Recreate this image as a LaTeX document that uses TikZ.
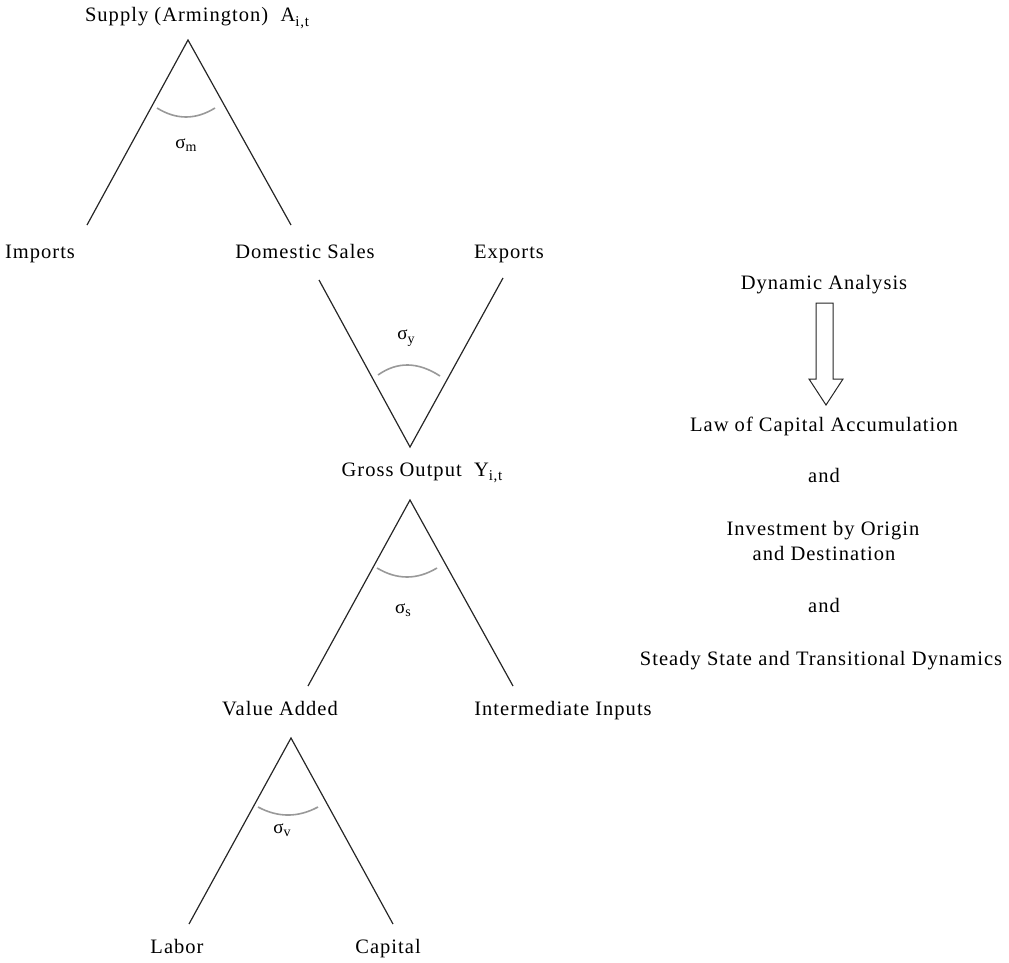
\documentclass[tikz,border=0pt]{standalone}
\usepackage{fontspec}
\setmainfont{Liberation Serif}[LetterSpace=5]
\newcommand\lowsub[1]{\raisebox{-4.5pt}{\fontsize{15}{15}\selectfont #1}}
\newcommand\sigsub[1]{σ\raisebox{-3.5pt}{\fontsize{14}{14}\selectfont #1}}
\begin{document}
\begin{tikzpicture}[x=1pt,y=-1pt,
  lbl/.style={anchor=base, inner sep=0pt, font=\fontsize{20.5}{24}\selectfont},
  sig/.style={anchor=center, inner sep=0pt, font=\fontsize{19}{20}\selectfont},
  edge/.style={draw=black!85, line width=1.2pt},
  angarc/.style={draw=black!40, line width=1.6pt},
  blockarrow/.style={draw=black!85, line width=1pt, fill=white, line join=miter}]
\useasboundingbox (0,0) rectangle (1009,963);

% labels
\node[lbl] (supply)   at (197,22)  {Supply (Armington)\hspace{0.6em}A\lowsub{i,t}};
\node[lbl] (imports)  at (40,258)  {Imports};
\node[lbl] (domestic) at (305,258) {Domestic Sales};
\node[lbl] (exports)  at (509,258) {Exports};
\node[lbl] (gross)    at (422,476) {Gross Output\hspace{0.6em}Y\lowsub{i,t}};
\node[lbl] (va)       at (280,715) {Value Added};
\node[lbl] (ii)       at (563,715) {Intermediate Inputs};
\node[lbl] (labor)    at (177,953) {Labor};
\node[lbl] (capital)  at (388,953) {Capital};

\node[lbl] (dyn)    at (824,289) {Dynamic Analysis};
\node[lbl] (law)    at (824,431) {Law of Capital Accumulation};
\node[lbl] (and1)   at (824,482) {and};
\node[lbl] (inv)    at (823,535) {Investment by Origin};
\node[lbl] (invb)   at (824,560) {and Destination};
\node[lbl] (and2)   at (824,612) {and};
\node[lbl] (steady) at (821,665) {Steady State and Transitional Dynamics};

% elasticity labels
\node[sig] (sigm) at (186,145) {\sigsub{m}};
\node[sig] (sigy) at (406,338) {\sigsub{y}};
\node[sig] (sigs) at (403,610) {\sigsub{s}};
\node[sig] (sigv) at (282,830) {\sigsub{v}};

% nesting points
\coordinate (tA) at (188,40);  \coordinate (tL) at (87,225);  \coordinate (tR) at (291,225);
\coordinate (vL) at (319,280); \coordinate (vB) at (410,447); \coordinate (vR) at (503,278);
\coordinate (gA) at (410,500); \coordinate (gL) at (308,686); \coordinate (gR) at (513,686);
\coordinate (bA) at (291,738); \coordinate (bL) at (189,924); \coordinate (bR) at (393,924);

\draw[edge] (tL) -- (tA) -- (tR);
\draw[edge] (vL) -- (vB) -- (vR);
\draw[edge] (gL) -- (gA) -- (gR);
\draw[edge] (bL) -- (bA) -- (bR);

% angle arcs
\draw[angarc] (157,108) .. controls (176.3,120) and (195.7,120) .. (215,108);
\draw[angarc] (378,375) .. controls (397.3,361.3) and (418,361.7) .. (440,376);
\draw[angarc] (377,568) .. controls (397,580) and (417,580) .. (437,568);
\draw[angarc] (258,807) .. controls (278,817.7) and (298,817.7) .. (318,807);

% block arrow
\draw[blockarrow] (816,303) -- (833,303) -- (833,379) -- (843,379) -- (826,405)
  -- (809,379) -- (816,379) -- cycle;
\end{tikzpicture}
\end{document}
